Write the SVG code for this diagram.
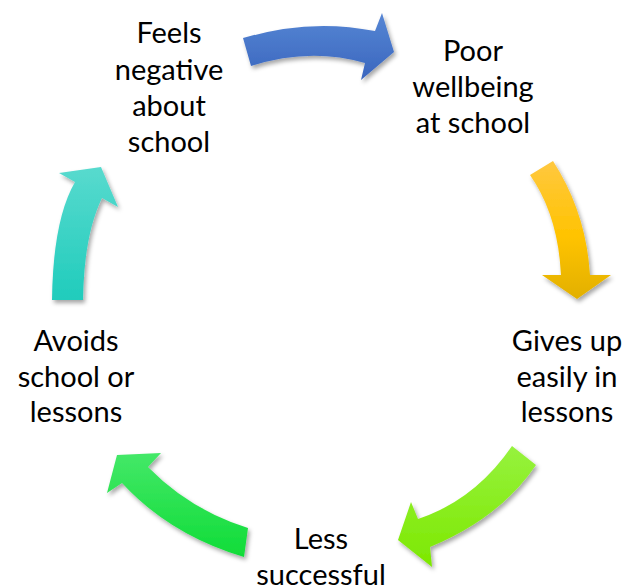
<svg xmlns="http://www.w3.org/2000/svg" width="625" height="587" viewBox="0 0 625 587">
  <defs>
    <style>
      .lbl { font-family: Lato, "Liberation Sans", sans-serif; font-size: 29px; fill: #000000; text-anchor: middle; }
      .arrow { filter: url(#shadow); }
    </style>
    <filter id="shadow" x="-20%" y="-20%" width="140%" height="140%">
      <feDropShadow dx="2" dy="3" stdDeviation="2" flood-color="#000000" flood-opacity="0.35"/>
    </filter>
    <linearGradient id="gBlue" x1="0" y1="0" x2="0" y2="1">
      <stop offset="0" stop-color="#5686D4"/>
      <stop offset="1" stop-color="#3A66BE"/>
    </linearGradient>
    <linearGradient id="gYellow" x1="0" y1="0" x2="0" y2="1">
      <stop offset="0" stop-color="#FFC840"/>
      <stop offset="0.55" stop-color="#FFC300"/>
      <stop offset="1" stop-color="#E2B000"/>
    </linearGradient>
    <linearGradient id="gLime" x1="0" y1="0" x2="0" y2="1">
      <stop offset="0" stop-color="#96F23E"/>
      <stop offset="1" stop-color="#7DE800"/>
    </linearGradient>
    <linearGradient id="gGreen" x1="0" y1="0" x2="0" y2="1">
      <stop offset="0" stop-color="#44E868"/>
      <stop offset="1" stop-color="#10DC38"/>
    </linearGradient>
    <linearGradient id="gTeal" x1="0" y1="0" x2="0" y2="1">
      <stop offset="0" stop-color="#58DACE"/>
      <stop offset="1" stop-color="#20CCBC"/>
    </linearGradient>
  </defs>

  <g id="connectors">
    <path class="arrow" fill="url(#gBlue)" d="M243,38 Q310,18 375,31 L382,13 L394,52 L361,80 L365,63 Q310,47 251,66 Z"/>
    <path class="arrow" fill="url(#gYellow)" d="M530,175 L553,161 Q586,212 590,275 L611,275 L577,299 L542,275 L561,275 Q558,215 530,175 Z"/>
    <path class="arrow" fill="url(#gLime)" d="M512,446 L536,465 Q500,518 430,547 L432,567 L398,540 L411,502 L418,519 Q475,500 512,446 Z"/>
    <path class="arrow" fill="url(#gGreen)" d="M244,557 L248,528 Q190,510 148,467 L161,453 L117,455 L107,493 L122,483 Q170,535 244,557 Z"/>
    <path class="arrow" fill="url(#gTeal)" d="M52,300 L83,300 Q84,235 102,198 L118,207 L101,167 L59,173 L75,182 Q53,220 52,300 Z"/>
  </g>

  <g id="node-feels">
    <text class="lbl" x="169" y="43">Feels</text>
    <text class="lbl" x="169" y="80">negative</text>
    <text class="lbl" x="169" y="116">about</text>
    <text class="lbl" x="169" y="152">school</text>
  </g>
  <g id="node-poor">
    <text class="lbl" x="473" y="61">Poor</text>
    <text class="lbl" x="473" y="97">wellbeing</text>
    <text class="lbl" x="473" y="133">at school</text>
  </g>
  <g id="node-gives">
    <text class="lbl" x="567" y="351">Gives up</text>
    <text class="lbl" x="567" y="387">easily in</text>
    <text class="lbl" x="567" y="422">lessons</text>
  </g>
  <g id="node-less">
    <text class="lbl" x="321" y="549">Less</text>
    <text class="lbl" x="321" y="585">successful</text>
  </g>
  <g id="node-avoids">
    <text class="lbl" x="76" y="351">Avoids</text>
    <text class="lbl" x="76" y="387">school or</text>
    <text class="lbl" x="76" y="422">lessons</text>
  </g>
</svg>
